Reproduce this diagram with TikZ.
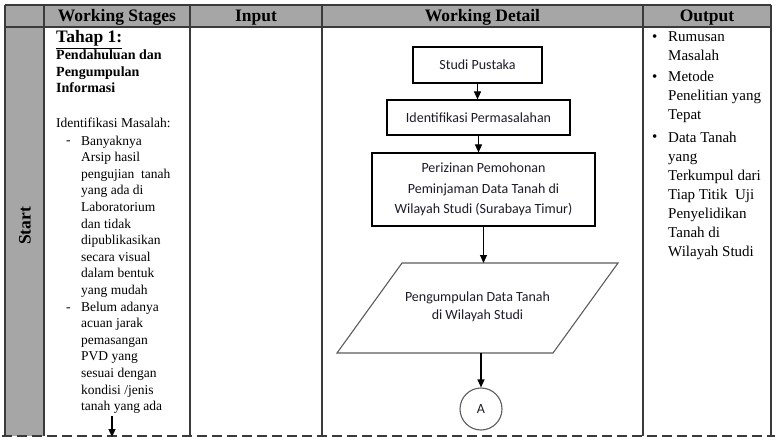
\documentclass[tikz,border=0pt]{standalone}
\usepackage{fontspec}
\setmainfont{Liberation Serif}
\newfontfamily\flowfont{Carlito}
\usetikzlibrary{arrows.meta}

\definecolor{headgray}{HTML}{A6A6A6}
\definecolor{rulegray}{HTML}{3A3A3A}
\definecolor{shapegray}{HTML}{5C5C5C}
\definecolor{flowink}{HTML}{1C1C28}

\begin{document}
\begin{tikzpicture}[x=1pt,y=-1pt,
  rule/.style={draw=rulegray,line width=1.3pt},
  headtext/.style={font=\fontsize{17.5}{19}\selectfont\bfseries,inner sep=0pt,anchor=base},
  stagebody/.style={font=\fontsize{13.5}{16.6}\selectfont,align=left,inner sep=0pt,anchor=base west},
  stagebold/.style={font=\fontsize{14}{16.5}\selectfont\bfseries,align=left,inner sep=0pt,anchor=base west},
  outbody/.style={font=\fontsize{15}{19}\selectfont,align=left,inner sep=0pt,anchor=base west},
  flowbox/.style={draw=black,line width=1.1pt,rectangle,align=center,
    font=\flowfont\fontsize{14}{20.5}\selectfont,text=flowink,inner sep=0pt},
  flowarrow/.style={draw=black,line width=1.1pt,-{Triangle[width=7pt,length=8pt]}},
]
\useasboundingbox (0,0) rectangle (775,438);

% ---- table background fills ----
\fill[headgray] (5,5) rectangle (771,27);
\fill[headgray] (5,27) rectangle (44,436);

% ---- table rules ----
\draw[rule] (5,5) -- (771,5);
\draw[rule] (5,27) -- (771,27);
\foreach \cx in {5,44,190,322,643,771}
  \draw[rule] (\cx,5) -- (\cx,436);
\draw[rule,dashed,dash pattern=on 10pt off 5pt] (2,436) -- (775,436);

% ---- column headings ----
\node[headtext] (hStages) at (117,21.5) {Working Stages};
\node[headtext] (hInput)  at (256,21.5) {Input};
\node[headtext] (hDetail) at (482.5,21.5) {Working Detail};
\node[headtext] (hOutput) at (707,21.5) {Output};
\node[headtext,rotate=90,anchor=center] (hStart) at (25,226) {Start};

% ---- working stages column (multi-line nodes are placed by their last baseline) ----
\node[stagebold,font=\fontsize{17.5}{20}\selectfont\bfseries] (stageTitle) at (56,43) {\underline{Tahap 1:}};
\node[stagebold] (stageName) at (56,93) {Pendahuluan dan\\Pengumpulan\\Informasi};
\node[stagebody] (issueHead) at (56,128) {Identifikasi Masalah:};
\node[stagebody] (issueA) at (81,294.4) {Banyaknya\\Arsip hasil\\pengujian~ tanah\\yang ada di\\Laboratorium\\dan tidak\\dipublikasikan\\secara visual\\dalam bentuk\\yang mudah};
\node[stagebody] (dashA) at (66,145) {-};
\node[stagebody] (issueB) at (81,410.6) {Belum adanya\\acuan jarak\\pemasangan\\PVD yang\\sesuai dengan\\kondisi /jenis\\tanah yang ada};
\node[stagebody] (dashB) at (66,311) {-};
\coordinate (stageArrowTop) at (112,416);
\coordinate (stageArrowEnd) at (112,437);
\draw[flowarrow] (stageArrowTop) -- (stageArrowEnd);

% ---- output column ----
\node[outbody] (outA) at (668,61) {Rumusan\\Masalah};
\node[outbody] (outB) at (668,120) {Metode\\Penelitian yang\\Tepat};
\node[outbody] (outC) at (668,256) {Data Tanah\\yang\\Terkumpul dari\\Tiap Titik~ Uji\\Penyelidikan\\Tanah di\\Wilayah Studi};
\foreach \by/\bn in {42/bulA,82/bulB,142/bulC}
  \node[outbody] (\bn) at (652,\by) {•};

% ---- working detail flowchart ----
\node[flowbox,minimum width=129pt,minimum height=36pt] (study) at (477.5,65) {Studi Pustaka};
\node[flowbox,minimum width=183pt,minimum height=35pt] (problem) at (478.5,117.5) {Identifikasi Permasalahan};
\node[flowbox,minimum width=223pt,minimum height=73pt] (permit) at (483.5,189.5)
  {Perizinan Pemohonan\\Peminjaman Data Tanah di\\Wilayah Studi (Surabaya Timur)};

% data-collection parallelogram
\coordinate (pTL) at (402,263);
\coordinate (pTR) at (618,263);
\coordinate (pBR) at (553,353);
\coordinate (pBL) at (337,353);
\draw[draw=shapegray,line width=1.1pt] (pTL) -- (pTR) -- (pBR) -- (pBL) -- cycle;
\node[align=center,inner sep=0pt,font=\flowfont\fontsize{14}{18}\selectfont,text=flowink] (collect) at (477.5,307) {Pengumpulan Data Tanah\\di Wilayah Studi};
\coordinate (collectTop) at (483.5,263);
\coordinate (collectBottom) at (481,353);

\node[circle,draw=shapegray,line width=1.1pt,minimum size=42pt,inner sep=0pt,
  font=\flowfont\fontsize{14}{15}\selectfont,text=flowink] (connA) at (481,409) {A};

\draw[flowarrow] (study.south) -- (study.south |- problem.north);
\draw[flowarrow] (problem.south) -- (problem.south |- permit.north);
\draw[flowarrow] (permit.south) -- (collectTop);
\draw[flowarrow] (collectBottom) -- (connA.north);
\end{tikzpicture}
\end{document}
